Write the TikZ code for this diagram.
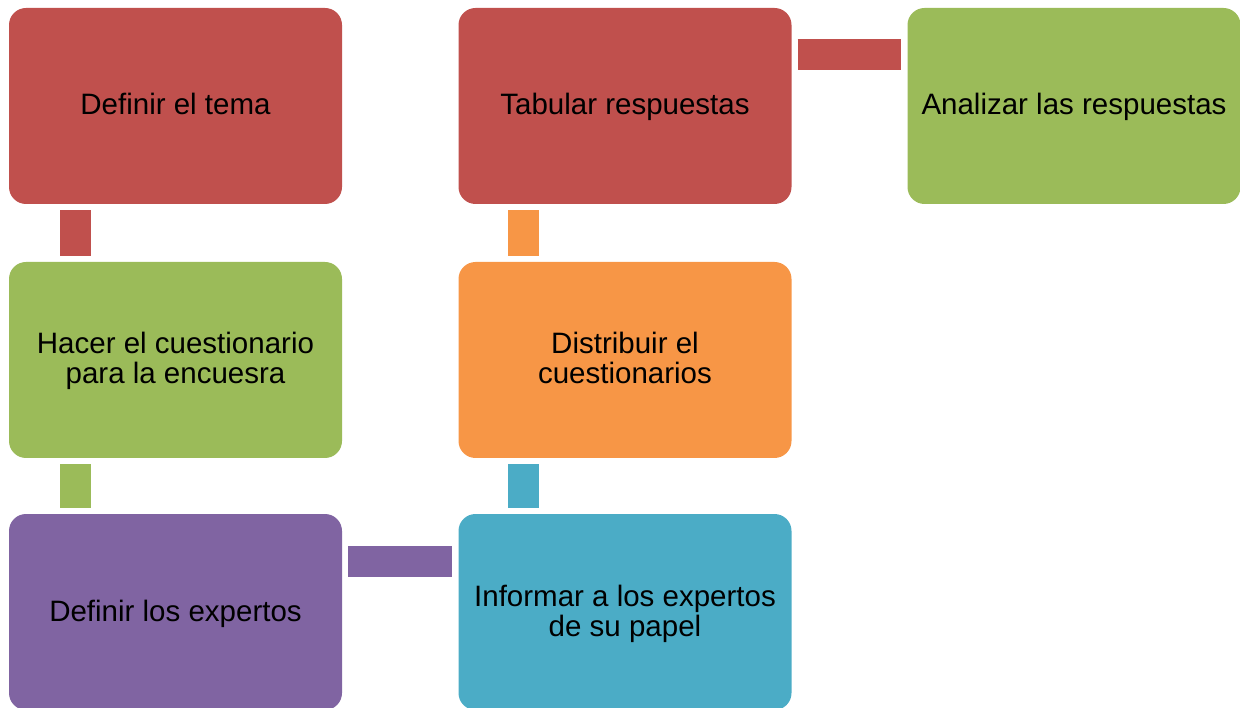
\documentclass[tikz,border=0pt]{standalone}
\usepackage{fontspec}
\setmainfont{Liberation Sans}
\usetikzlibrary{calc}
\definecolor{pasoRojo}{HTML}{C0504D}
\definecolor{pasoVerde}{HTML}{9BBB59}
\definecolor{pasoMorado}{HTML}{8064A2}
\definecolor{pasoAzul}{HTML}{4BACC6}
\definecolor{pasoNaranja}{HTML}{F79646}
\tikzset{paso/.style={rounded corners=17pt, minimum width=333pt, minimum height=196pt,
    inner sep=0pt, align=center, text height=25pt, text depth=7pt,
    font=\fontsize{29.5}{30}\selectfont},
  pasodos/.style={paso, text height=55pt},
  barra/.style={line width=31pt, shorten <=6pt, shorten >=6pt}}

\begin{document}
\begin{tikzpicture}[x=1pt,y=-1pt]
    \useasboundingbox (0,0) rectangle (1240,708);
    \node[paso, fill=pasoRojo] (tema) at (175.5,106) {Definir el tema};
    \node[pasodos, fill=pasoVerde] (cuest) at (175.5,360) {Hacer el cuestionario\\para la encuesra};
    \node[paso, fill=pasoMorado] (expertos) at (175.5,612) {Definir los expertos};
    \node[pasodos, fill=pasoAzul] (informar) at (625,612) {Informar a los expertos\\de su papel};
    \node[pasodos, fill=pasoNaranja] (distrib) at (625,360) {Distribuir el\\cuestionarios};
    \node[paso, fill=pasoRojo] (tabular) at (625,106) {Tabular respuestas};
    \node[paso, fill=pasoVerde] (analizar) at (1074,106) {Analizar las respuestas};
    \draw[barra, pasoRojo] ($(tema.south west)+(66.5,0)$) -- ($(cuest.north west)+(66.5,0)$);
    \draw[barra, pasoVerde] ($(cuest.south west)+(66.5,0)$) -- ($(expertos.north west)+(66.5,0)$);
    \draw[barra, pasoMorado] ($(expertos.north east)+(0,47.5)$) -- ($(informar.north west)+(0,47.5)$);
    \draw[barra, pasoAzul] ($(informar.north west)+(65.5,0)$) -- ($(distrib.south west)+(65.5,0)$);
    \draw[barra, pasoNaranja] ($(distrib.north west)+(65.5,0)$) -- ($(tabular.south west)+(65.5,0)$);
    \draw[barra, pasoRojo] ($(tabular.north east)+(0,47)$) -- ($(analizar.north west)+(0,47)$);
\end{tikzpicture}
\end{document}
